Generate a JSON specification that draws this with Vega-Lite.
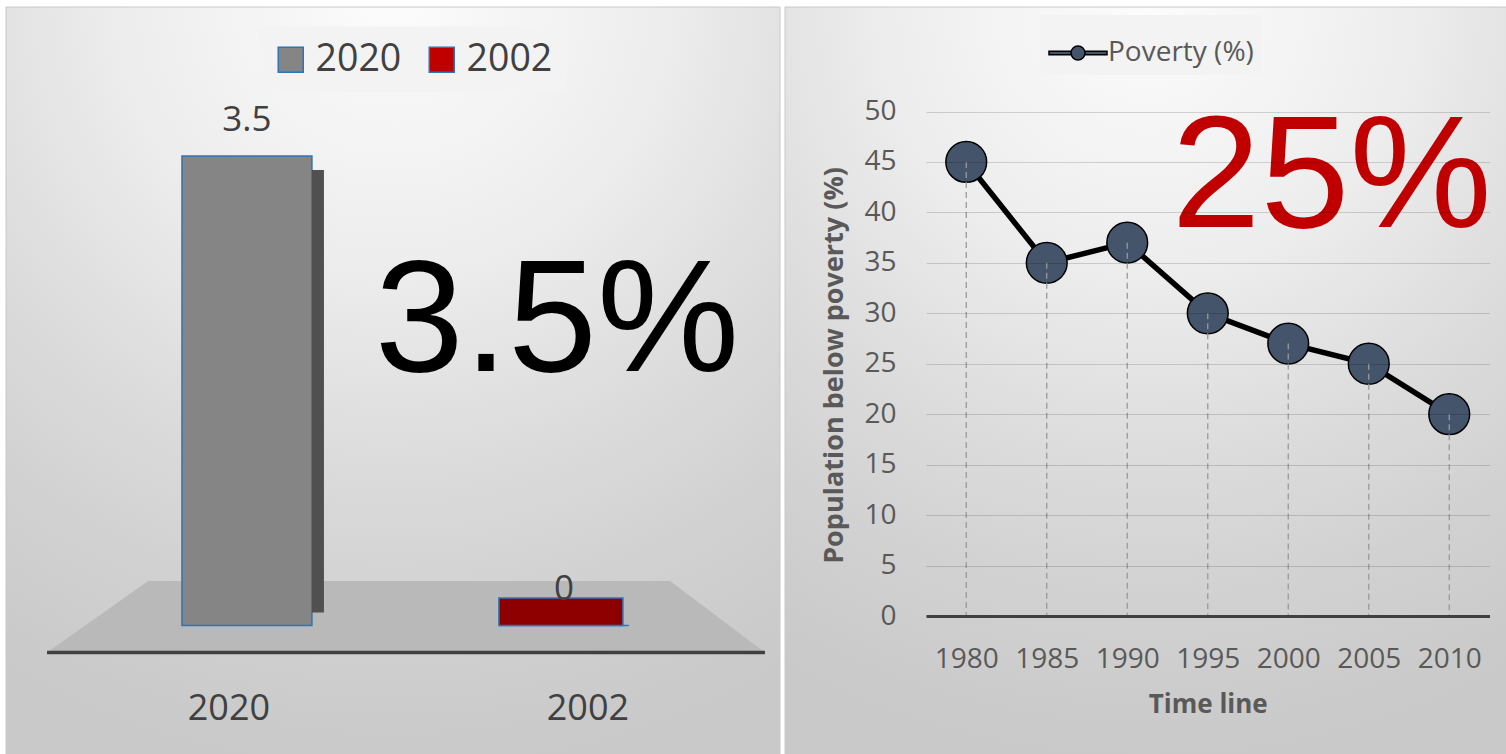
{
  "$schema": "https://vega.github.io/schema/vega-lite/v6.json",
  "background": "#ffffff",
  "padding": {"left": 5, "top": 6, "right": 0, "bottom": 0},
  "spacing": 3,
  "config": {
    "view": {"stroke": null},
    "font": "Open Sans",
    "axis": {"labelFont": "Open Sans", "titleFont": "Open Sans"},
    "legend": {"labelFont": "Open Sans"}
  },
  "datasets": {
    "share": [
      {"year": "2020", "value": 3.5},
      {"year": "2002", "value": 0}
    ],
    "floor": [
      {"f": 0.053, "top": -0.2013, "bottom": -0.2013},
      {"f": 0.1835, "top": 0.3317, "bottom": -0.2013},
      {"f": 0.858, "top": 0.3317, "bottom": -0.2013},
      {"f": 0.9806, "top": -0.2013, "bottom": -0.2013}
    ],
    "poverty": [
      {"year": 1980, "poverty": 45, "series": "Poverty (%)"},
      {"year": 1985, "poverty": 35, "series": "Poverty (%)"},
      {"year": 1990, "poverty": 37, "series": "Poverty (%)"},
      {"year": 1995, "poverty": 30, "series": "Poverty (%)"},
      {"year": 2000, "poverty": 27, "series": "Poverty (%)"},
      {"year": 2005, "poverty": 25, "series": "Poverty (%)"},
      {"year": 2010, "poverty": 20, "series": "Poverty (%)"}
    ]
  },
  "hconcat": [
    {
      "width": 774,
      "height": 748,
      "resolve": {"scale": {"x": "independent"}},
      "layer": [
        {
          "data": {"values": [{}]},
          "mark": {
            "type": "rect",
            "fill": {"gradient": "radial", "x1": 0.5, "y1": 0, "r1": 0, "x2": 0.5, "y2": 0, "r2": 1,
              "stops": [
                {"offset": 0, "color": "#fcfcfc"},
                {"offset": 0.35, "color": "#ededed"},
                {"offset": 0.6, "color": "#dcdcdc"},
                {"offset": 0.8, "color": "#d1d1d1"},
                {"offset": 1, "color": "#c9c9c9"}
              ]},
            "stroke": "#c8c8c8",
            "strokeWidth": 1
          },
          "encoding": {
            "x": {"datum": 0, "type": "quantitative", "scale": {"domain": [0, 1], "nice": false, "zero": false}, "axis": null},
            "x2": {"datum": 1},
            "y": {"datum": -0.9654, "type": "quantitative", "scale": {"domain": [-0.9654, 4.6108], "nice": false, "zero": false}, "axis": null},
            "y2": {"datum": 4.6108}
          }
        },
        {
          "data": {"name": "floor"},
          "mark": {"type": "area", "color": "#b9b9b9", "opacity": 1},
          "encoding": {
            "x": {"field": "f", "type": "quantitative", "scale": {"domain": [0, 1], "nice": false, "zero": false}, "axis": null},
            "y": {"field": "top", "type": "quantitative", "scale": {"domain": [-0.9654, 4.6108], "nice": false, "zero": false}, "axis": null},
            "y2": {"field": "bottom"}
          }
        },
        {
          "data": {"name": "floor"},
          "transform": [{"filter": "datum.top == datum.bottom"}],
          "mark": {"type": "line", "color": "#404040", "strokeWidth": 3.5},
          "encoding": {
            "x": {"field": "f", "type": "quantitative", "scale": {"domain": [0, 1], "nice": false, "zero": false}, "axis": null},
            "y": {"field": "bottom", "type": "quantitative", "scale": {"domain": [-0.9654, 4.6108], "nice": false, "zero": false}, "axis": null}
          }
        },
        {
          "data": {"name": "share"},
          "layer": [
            {
              "mark": {"type": "bar", "stroke": "#2e75b6", "strokeWidth": 1.5},
              "encoding": {
                "x": {
                  "field": "year", "type": "nominal", "sort": ["2020", "2002"],
                  "scale": {"domain": ["2020", "2002"], "paddingInner": 0.59, "paddingOuter": 0.516, "align": 0.538},
                  "axis": {
                    "title": null, "orient": "bottom", "offset": -100, "domain": false, "ticks": false, "tickSize": 0, "grid": false,
                    "labelFontSize": 36, "labelColor": "#404040", "labelPadding": 36, "labelAngle": 0,
                    "labelOffset": {"condition": {"test": "datum.value === '2020'", "value": -18}, "value": 24},
                    "zindex": 1
                  }
                },
                "y": {"field": "value", "type": "quantitative", "scale": {"domain": [-0.9654, 4.6108], "nice": false, "zero": false}, "axis": null},
                "y2": {"datum": 0},
                "color": {
                  "field": "year", "type": "nominal",
                  "scale": {"domain": ["2020", "2002"], "range": ["#858585", "#c00000"]},
                  "legend": {
                    "title": null, "orient": "none", "legendX": 252, "legendY": 19.5, "direction": "horizontal",
                    "symbolType": "square", "symbolSize": 625, "symbolStrokeColor": "#2e75b6", "symbolStrokeWidth": 1.5, "symbolOpacity": 1,
                    "labelFontSize": 37.5, "labelColor": "#404040", "labelOffset": 6, "columnPadding": 21,
                    "padding": 14, "fillColor": "#f3f3f3"
                  }
                }
              }
            },
            {
              "transform": [{"filter": "datum.value > 0"}],
              "mark": {"type": "bar", "width": 12, "xOffset": 71, "yOffset": 14, "y2Offset": -13, "color": "#505050"},
              "encoding": {
                "x": {"field": "year", "type": "nominal", "sort": ["2020", "2002"], "scale": {"domain": ["2020", "2002"], "paddingInner": 0.59, "paddingOuter": 0.516, "align": 0.538}},
                "y": {"field": "value", "type": "quantitative", "scale": {"domain": [-0.9654, 4.6108], "nice": false, "zero": false}, "axis": null},
                "y2": {"datum": 0}
              }
            },
            {
              "transform": [{"filter": "datum.value == 0"}],
              "mark": {"type": "bar", "width": 124, "xOffset": -3, "yOffset": -27.5, "color": "#8e0000", "stroke": "#2e75b6", "strokeWidth": 1.5},
              "encoding": {
                "x": {"field": "year", "type": "nominal", "sort": ["2020", "2002"], "scale": {"domain": ["2020", "2002"], "paddingInner": 0.59, "paddingOuter": 0.516, "align": 0.538}},
                "y": {"field": "value", "type": "quantitative", "scale": {"domain": [-0.9654, 4.6108], "nice": false, "zero": false}, "axis": null},
                "y2": {"datum": 0}
              }
            },
            {
              "mark": {"type": "text", "fontSize": 35, "color": "#404040", "baseline": "middle", "dy": -36, "font": "Open Sans"},
              "encoding": {
                "x": {"field": "year", "type": "nominal", "sort": ["2020", "2002"], "scale": {"domain": ["2020", "2002"], "paddingInner": 0.59, "paddingOuter": 0.516, "align": 0.538}},
                "y": {"field": "value", "type": "quantitative", "scale": {"domain": [-0.9654, 4.6108], "nice": false, "zero": false}, "axis": null},
                "text": {"field": "value", "type": "quantitative"}
              }
            }
          ]
        },
        {
          "data": {"values": [{}]},
          "mark": {"type": "text", "text": "3.5%", "font": "Liberation Sans", "fontSize": 160, "color": "#000000", "align": "center", "baseline": "alphabetic"},
          "encoding": {
            "x": {"datum": 0.7119, "type": "quantitative", "scale": {"domain": [0, 1], "nice": false, "zero": false}, "axis": null},
            "y": {"datum": 1.897, "type": "quantitative", "scale": {"domain": [-0.9654, 4.6108], "nice": false, "zero": false}, "axis": null}
          }
        }
      ]
    },
    {
      "width": 563.5,
      "height": 609,
      "resolve": {"scale": {"x": "independent", "y": "independent"}},
      "layer": [
        {
          "data": {"values": [{}]},
          "mark": {
            "type": "rect",
            "fill": {"gradient": "radial", "x1": 0.5, "y1": 0, "r1": 0, "x2": 0.5, "y2": 0, "r2": 1,
              "stops": [
                {"offset": 0, "color": "#fcfcfc"},
                {"offset": 0.35, "color": "#ededed"},
                {"offset": 0.6, "color": "#dcdcdc"},
                {"offset": 0.8, "color": "#d1d1d1"},
                {"offset": 1, "color": "#c9c9c9"}
              ]},
            "stroke": "#c8c8c8",
            "strokeWidth": 1
          },
          "encoding": {
            "x": {"datum": -0.2502, "type": "quantitative", "scale": {"domain": [0, 1], "nice": false, "zero": false}, "axis": null},
            "x2": {"datum": 1.0346},
            "y": {"datum": -0.2282, "type": "quantitative", "scale": {"domain": [0, 1], "nice": false, "zero": false}, "axis": null},
            "y2": {"datum": 1}
          }
        },
        {
          "data": {"name": "poverty"},
          "layer": [
            {
              "mark": {"type": "line", "color": "#000000", "strokeWidth": 5.5},
              "encoding": {
                "x": {
                  "field": "year", "type": "quantitative",
                  "scale": {"domain": [1977.5, 2012.5], "nice": false, "zero": false},
                  "axis": {
                    "orient": "bottom",
                    "values": [1980, 1985, 1990, 1995, 2000, 2005, 2010], "format": "d",
                    "title": "Time line", "titleFontSize": 26, "titleFontWeight": "bold", "titleColor": "#595959", "titlePadding": 18,
                    "labelFontSize": 28, "labelColor": "#595959", "labelPadding": 29,
                    "domain": true, "domainColor": "#404040", "domainWidth": 3,
                    "ticks": false, "tickSize": 0, "grid": false, "zindex": 1
                  }
                },
                "y": {
                  "field": "poverty", "type": "quantitative",
                  "scale": {"domain": [0, 60.357], "nice": false, "zero": false},
                  "axis": {
                    "orient": "left",
                    "values": [0, 5, 10, 15, 20, 25, 30, 35, 40, 45, 50],
                    "title": "Population below poverty (%)", "titleFontSize": 27, "titleFontWeight": "bold", "titleColor": "#595959", "titlePadding": 15, "titleY": 358,
                    "labelFontSize": 28, "labelColor": "#595959", "labelPadding": 30,
                    "domain": false, "ticks": false, "tickSize": 0,
                    "grid": true, "gridColor": "#000000", "gridOpacity": 0.15, "gridWidth": 1.2, "zindex": 1
                  }
                }
              }
            },
            {
              "mark": {"type": "circle", "size": 1662, "stroke": "#000000", "strokeWidth": 1.5, "opacity": 1},
              "encoding": {
                "x": {"field": "year", "type": "quantitative", "scale": {"domain": [1977.5, 2012.5], "nice": false, "zero": false}},
                "y": {"field": "poverty", "type": "quantitative", "scale": {"domain": [0, 60.357], "nice": false, "zero": false}},
                "fill": {
                  "field": "series", "type": "nominal",
                  "scale": {"range": ["#44546a"]},
                  "legend": {
                    "title": null, "orient": "none", "legendX": 1034, "legendY": 8,
                    "symbolType": "M-1,-0.06L-0.24,-0.06L-0.24,0.06L-1,0.06Z M0.24,-0.06L1,-0.06L1,0.06L0.24,0.06Z M-0.24,0A0.24,0.24,0,1,1,0.24,0A0.24,0.24,0,1,1,-0.24,0Z",
                    "symbolSize": 3364, "symbolStrokeColor": "#000000", "symbolStrokeWidth": 1.5, "symbolOpacity": 1,
                    "labelFontSize": 28, "labelColor": "#595959", "labelOffset": 0,
                    "padding": 8, "fillColor": "#f3f3f3"
                  }
                }
              }
            },
            {
              "mark": {"type": "rule", "color": "#9a9a9a", "strokeWidth": 1.3, "strokeDash": [6, 4]},
              "encoding": {
                "x": {"field": "year", "type": "quantitative", "scale": {"domain": [1977.5, 2012.5], "nice": false, "zero": false}},
                "y": {"field": "poverty", "type": "quantitative", "scale": {"domain": [0, 60.357], "nice": false, "zero": false}},
                "y2": {"datum": 0}
              }
            },
            {
              "data": {"values": [{}]},
              "mark": {"type": "text", "text": "25%", "font": "Liberation Sans", "fontSize": 160, "color": "#c00000", "align": "center", "baseline": "alphabetic"},
              "encoding": {
                "x": {"datum": 2002.7, "type": "quantitative", "scale": {"domain": [1977.5, 2012.5], "nice": false, "zero": false}},
                "y": {"datum": 38.55, "type": "quantitative", "scale": {"domain": [0, 60.357], "nice": false, "zero": false}}
              }
            }
          ]
        }
      ]
    }
  ]
}
